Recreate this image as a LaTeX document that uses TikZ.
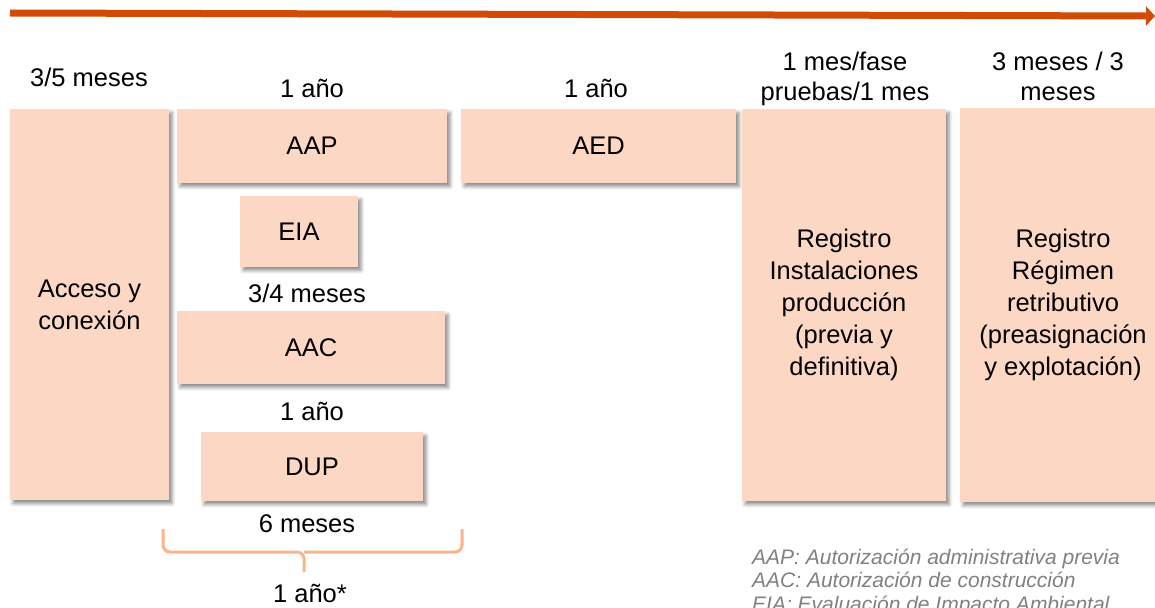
\documentclass[tikz,border=0pt]{standalone}
\usepackage{fontspec}
\setmainfont{Liberation Sans}
\usetikzlibrary{arrows.meta,shadows.blur}
\definecolor{boxfill}{RGB}{252,216,196}
\definecolor{arrowc}{RGB}{209,75,4}
\definecolor{bracec}{RGB}{250,180,140}
\definecolor{legc}{RGB}{128,128,128}
\newcommand{\mainsz}{\fontsize{25.5}{32}\selectfont}
\newcommand{\topsz}{\fontsize{25.5}{30}\selectfont}
\newcommand{\legsz}{\fontsize{21}{23.3}\selectfont}
\begin{document}
\begin{tikzpicture}[x=1pt,y=-1pt,
  box/.style={fill=boxfill, draw=none, inner sep=0pt, align=center, font=\mainsz,
    blur shadow={shadow xshift=3pt, shadow yshift=-3.5pt, shadow blur radius=3.5pt, shadow opacity=45}},
  lbl/.style={inner sep=0pt, align=center, font=\topsz},
  legend/.style={inner sep=0pt, align=left, anchor=north west, font=\legsz\itshape, text=legc}]
\clip (0,0) rectangle (1155,607);
% timeline arrow
\coordinate (tl) at (10,13);
\coordinate (tr) at (1155,16);
\draw[arrowc, line width=7pt, -{Triangle[length=9pt,width=19pt]}] (tl) -- (tr);
% boxes
\node[box, minimum width=159pt, minimum height=391pt] (acc) at (89.5,304.5) {Acceso y\\conexión};
\node[box, minimum width=270pt, minimum height=74pt] (aap) at (312,146) {AAP};
\node[box, minimum width=275pt, minimum height=74pt] (aed) at (598.5,146) {AED};
\node[box, minimum width=118pt, minimum height=71pt] (eia) at (299,231.5) {EIA};
\node[box, minimum width=268pt, minimum height=73pt] (aac) at (311,347.5) {AAC};
\node[box, minimum width=222pt, minimum height=69pt] (dup) at (312,466.5) {DUP};
\node[box, minimum width=204pt, minimum height=392pt] (reg1) at (844,305) {Registro\\Instalaciones\\producción\\(previa y\\definitiva)};
\node[box, minimum width=206pt, minimum height=394pt] (reg2) at (1063,305) {Registro\\Régimen\\retributivo\\(preasignación\\y explotación)};
% labels
\node[lbl] (l1) at (89,77) {3/5 meses};
\node[lbl] (l2) at (312,88) {1 año};
\node[lbl] (l3) at (596,88) {1 año};
\node[lbl] (l4) at (845,79) {1 mes/fase\\pruebas/1 mes};
\node[lbl] (l5) at (1058,76) {3 meses / 3\\meses};
\node[lbl] (l6) at (307,293) {3/4 meses};
\node[lbl] (l7) at (312,411) {1 año};
\node[lbl] (l8) at (307,524) {6 meses};
\node[lbl] (l9) at (310,593) {1 año*};
% brace
\coordinate (bl) at (163,529);
\coordinate (br) at (462,529);
\coordinate (bm) at (304,552);
\coordinate (bt) at (304,572);
\draw[bracec, line width=3pt, rounded corners=7pt] (bl) |- (bm) -- (bt);
\draw[bracec, line width=3pt, rounded corners=7pt] (br) |- (bm);
% legend
\node[legend] (leg) at (752,549) {AAP: Autorización administrativa previa\\AAC: Autorización de construcción\\EIA: Evaluación de Impacto Ambiental};
\end{tikzpicture}
\end{document}
